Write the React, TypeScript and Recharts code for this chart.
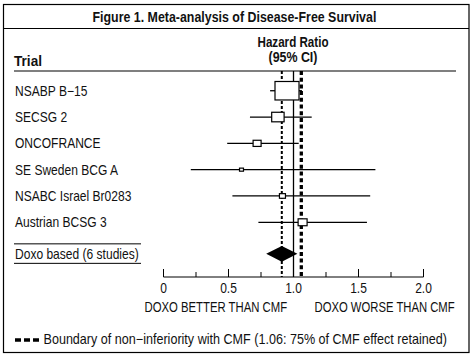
import { ScatterChart, Scatter, XAxis, YAxis, ReferenceArea } from "recharts"

const trials = [
  "NSABP B\u221215",
  "SECSG 2",
  "ONCOFRANCE",
  "SE Sweden BCG A",
  "NSABC Israel Br0283",
  "Austrian BCSG 3",
]
const hazardRatio = [0.95, 0.88, 0.72, 0.6, 0.915, 1.07]
const ciLow = [0.82, 0.665, 0.49, 0.21, 0.53, 0.73]
const ciHigh = [1.065, 1.14, 1.04, 1.63, 1.59, 1.565]
const weights = [62.1, 16.6, 6.9, 1.7, 3.9, 8.7]

const pooledLabel = "Doxo based (6 studies)"
const pooledHr = 0.91
const pooledCi = [0.79, 1.03]
const noEffect = 1
const nonInferiority = 1.06

const xTicks = [0, 0.25, 0.5, 0.75, 1, 1.25, 1.5, 1.75, 2]
const xTickLabels = ["0", "", "0.5", "", "1.0", "", "1.5", "", "2.0"]

const FONT = "'Liberation Sans', Arial, sans-serif"
const SQUEEZE = 0.86
const maxW = Math.max(...weights)
const pooledRow = trials.length + 0.2
const yDomain = [-0.75, 7.08]

const points = trials.map((t, i) => ({ row: i, hr: hazardRatio[i], w: weights[i] }))
const vline = (x: number) => [{ hr: x, row: yDomain[0] }, { hr: x, row: yDomain[1] }]

// squeeze a text horizontally so it spans `width` px, like the condensed face of the original
let ctx: CanvasRenderingContext2D | null = null
function fitScale(text: string, width: number, bold?: boolean) {
  if (!ctx) ctx = document.createElement("canvas").getContext("2d")
  if (!ctx) return SQUEEZE
  ctx.font = `${bold ? "bold " : ""}14px ${FONT}`
  return width / ctx.measureText(text).width
}

function Fit({ x, y, width, bold, children }: any) {
  const s = fitScale(children, width, bold)
  return (
    <text
      transform={`translate(${x},${y}) scale(${s},1)`}
      fontSize={14}
      fontWeight={bold ? "bold" : "normal"}
      fontFamily={FONT}
      fill="#111"
    >
      {children}
    </text>
  )
}

function Narrow({ x, y, anchor, children }: any) {
  return (
    <text
      transform={`translate(${x},${y}) scale(${SQUEEZE},1)`}
      textAnchor={anchor || "start"}
      fontSize={14}
      fontFamily={FONT}
      fill="#111"
    >
      {children}
    </text>
  )
}

function Box(props: any) {
  const { cx, cy, payload } = props
  const w = 24 * Math.sqrt(payload.w / maxW)
  const h = w * 0.77
  return <rect x={cx - w / 2} y={cy - h / 2} width={w} height={h} fill="#fff" stroke="#000" strokeWidth={1.2} />
}

function Diamond(props: any) {
  const { x, y, width, height } = props
  const mx = x + width / 2
  const my = y + height / 2
  return <polygon points={`${x},${my} ${mx},${y} ${x + width},${my} ${mx},${y + height}`} fill="#000" />
}

function TrialTick(props: any) {
  const { y, payload } = props
  const pooled = payload.value === pooledRow
  const label = pooled ? pooledLabel : trials[payload.value]
  return (
    <g>
      {pooled && <line x1={14} x2={141} y1={y - 10} y2={y - 10} stroke="#000" />}
      <Narrow x={15} y={y + 5}>{label}</Narrow>
      {pooled && <line x1={14} x2={141} y1={y + 9.5} y2={y + 9.5} stroke="#000" />}
    </g>
  )
}

function HrTick(props: any) {
  const { x, y, index } = props
  const label = xTickLabels[index]
  return (
    <g>
      <line x1={x} x2={x} y1={y} y2={y - (label ? 8 : 5)} stroke="#000" />
      {label && <Narrow x={x} y={y + 16} anchor="middle">{label}</Narrow>}
    </g>
  )
}

const noShape = () => <g />

export default function App() {
  return (
    <div style={{ position: "absolute", left: 0, top: 0, width: 472, height: 357, background: "#fff" }}>
      <ScatterChart width={472} height={357} margin={{ top: 71, right: 48.5, bottom: 50, left: 0 }}>
        <XAxis
          type="number"
          dataKey="hr"
          domain={[0, 2]}
          ticks={xTicks}
          interval={0}
          height={30}
          tickSize={0}
          tickMargin={0}
          tickLine={false}
          axisLine={{ stroke: "#000" }}
          tick={<HrTick />}
        />
        <YAxis
          type="number"
          dataKey="row"
          reversed
          domain={yDomain}
          ticks={[0, 1, 2, 3, 4, 5, pooledRow]}
          interval={0}
          width={163.5}
          axisLine={false}
          tickLine={false}
          tick={<TrialTick />}
        />
        <Scatter data={vline(noEffect)} line={{ stroke: "#000", strokeWidth: 1.3 }} shape={noShape} isAnimationActive={false} />
        <Scatter
          data={vline(pooledHr)}
          line={{ stroke: "#000", strokeWidth: 2, strokeDasharray: "3 2" }}
          shape={noShape}
          isAnimationActive={false}
        />
        <Scatter
          data={vline(nonInferiority)}
          line={{ stroke: "#000", strokeWidth: 3.3, strokeDasharray: "4 2.7" }}
          shape={noShape}
          isAnimationActive={false}
        />
        {trials.map((t, i) => (
          <Scatter
            key={t}
            data={[{ hr: ciLow[i], row: i }, { hr: ciHigh[i], row: i }]}
            line={{ stroke: "#000", strokeWidth: 1.3 }}
            shape={noShape}
            isAnimationActive={false}
          />
        ))}
        <Scatter data={points} shape={<Box />} isAnimationActive={false} />
        <ReferenceArea
          x1={pooledCi[0]}
          x2={pooledCi[1]}
          y1={pooledRow - 0.3}
          y2={pooledRow + 0.3}
          shape={<Diamond />}
          ifOverflow="visible"
        />
      </ScatterChart>
      <svg width={472} height={357} style={{ position: "absolute", left: 0, top: 0, pointerEvents: "none" }}>
        <rect x={3.5} y={4.5} width={465.5} height={348} fill="none" stroke="#000" strokeWidth={1.2} />
        <line x1={3.5} x2={469} y1={28.5} y2={28.5} stroke="#000" />
        <Fit x={92.5} y={22} width={284} bold>Figure 1. Meta-analysis of Disease-Free Survival</Fit>
        <Fit x={257.5} y={46.5} width={71} bold>Hazard Ratio</Fit>
        <Fit x={268.5} y={61.5} width={49} bold>(95% CI)</Fit>
        <Fit x={14} y={66} width={28} bold>Trial</Fit>
        <line x1={14} x2={456} y1={71} y2={71} stroke="#000" strokeWidth={1.2} />
        <Fit x={144.5} y={311.5} width={143}>DOXO BETTER THAN CMF</Fit>
        <Fit x={314.5} y={311.5} width={140.5}>DOXO WORSE THAN CMF</Fit>
        <Fit x={43.5} y={344} width={404}>
          {"Boundary of non\u2212inferiority with CMF (1.06: 75% of CMF effect retained)"}
        </Fit>
        <line x1={15} x2={39} y1={340} y2={340} stroke="#000" strokeWidth={3.3} strokeDasharray="6 3" />
      </svg>
    </div>
  )
}
